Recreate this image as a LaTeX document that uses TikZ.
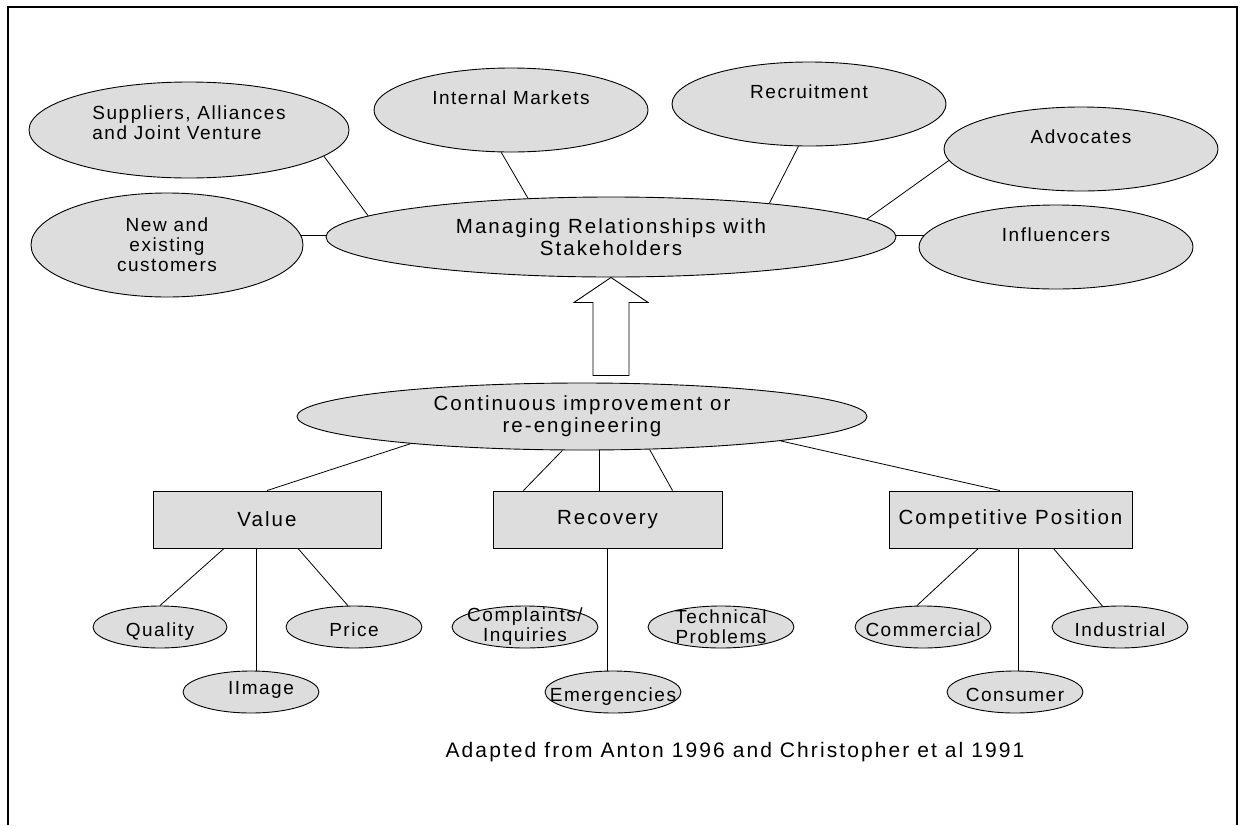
\documentclass[tikz,border=0pt]{standalone}
\usepackage{fontspec}
\setmainfont{Liberation Sans}[LetterSpace=8]
\usetikzlibrary{shapes.geometric}
\definecolor{shade}{RGB}{221,221,221}
\newcommand{\bigtext}{\fontsize{20.5}{22}\selectfont\addfontfeatures{LetterSpace=10}}
\tikzset{
    oval/.style={ellipse, draw, fill=shade, line width=0.9pt, inner sep=0pt, align=center, font=\fontsize{19}{20}\selectfont},
    outer/.style={oval, minimum width=274pt, minimum height=84pt},
    hightext/.style={text height=14pt, text depth=26pt},
    lowtext/.style={text height=18pt, text depth=0pt},
    bigoval/.style={oval, minimum width=570pt, font=\bigtext},
    small/.style={oval, minimum width=136pt, minimum height=42pt, inner xsep=-16pt, inner ysep=-6pt},
    box/.style={rectangle, draw, fill=shade, line width=0.9pt, minimum height=57pt, inner sep=0pt, font=\bigtext},
    link/.style={line width=0.8pt}
}
\begin{document}
\begin{tikzpicture}[x=1pt,y=-1pt]
        \useasboundingbox (0,0) rectangle (1244,825);
        \draw[line width=2pt] (8,825) -- (8,7) -- (1237,7) -- (1237,825);
        \node[oval, minimum width=320pt, minimum height=96pt, align=left, text depth=15pt] (sup) at (189,130) {Suppliers, Alliances\\and Joint Venture};
        \node[outer, hightext] (intm) at (511,110) {Internal Markets};
        \node[outer, hightext] (recr) at (809,104) {Recruitment};
        \node[outer, hightext] (advo) at (1081,149) {Advocates};
        \node[outer, hightext] (infl) at (1056,247) {Influencers};
        \node[oval, minimum width=272pt, minimum height=104pt] (cust) at (167,245) {New and\\existing\\customers};
        \node[bigoval, minimum height=80pt] (mrs) at (611,237) {Managing Relationships with\\Stakeholders};
        \node[bigoval, minimum height=67pt] (cim) at (582,416.5) {Continuous improvement or\\re-engineering};
        \node[box, minimum width=228pt] (value) at (267,519.5) {Value};
        \node[box, minimum width=229pt] (recv) at (607.5,519.5) {Recovery};
        \node[box, minimum width=243pt] (comp) at (1010.5,519.5) {Competitive Position};
        \node[small, lowtext, minimum width=134pt] (qual) at (160,627) {Quality};
        \node[small, text height=14pt, text depth=10pt] (imag) at (251,692) {\hspace*{20pt}IImage};
        \node[small, lowtext] (pric) at (354,627) {Price};
        \node[small, minimum width=146pt] (compl) at (525,627) {Complaints/\\Inquiries};
        \node[small, minimum width=146pt] (tech) at (721,627) {Technical\\Problems};
        \node[small, lowtext] (emer) at (613,692) {Emergencies};
        \node[small, lowtext] (comm) at (923,627) {Commercial};
        \node[small, lowtext] (indu) at (1120,627) {Industrial};
        \node[small, lowtext] (cons) at (1015,692) {Consumer};
        \node[font=\fontsize{21}{24}\selectfont\addfontfeatures{LetterSpace=10}] (src) at (735,752) {Adapted from Anton 1996 and Christopher et al 1991};
        \draw[link] (sup.-11) -- (mrs.175);
        \draw[link] (intm.257) -- (mrs.155);
        \draw[link] (recr.256) -- (mrs.12);
        \draw[link] (advo.185) -- (mrs.4);
        \draw[link] (cust.4) -- (cust.4 -| mrs.west);
        \draw[link] (infl.175) -- (infl.175 -| mrs.east);
        \draw[line width=0.9pt, fill=white] (mrs.south) -- ++(37,25) -- ++(-19,0) -- ++(0,73) -- ++(-36,0) -- ++(0,-73) -- ++(-19,0) -- cycle;
        \draw[link] (cim.189) -- (value.north);
        \draw[link] (cim.240) -- (recv.161);
        \draw[link] (cim.-63) -- (cim.-63 |- recv.north);
        \draw[link] (cim.-26) -- (recv.24);
        \draw[link] (cim.-7) -- (comp.110);
        \draw[link] (value.214) -- (qual.north);
        \draw[link] (value.south -| imag.76) -- (imag.76);
        \draw[link] (value.-43.5) -- (pric.106);
        \draw[link] (recv.south) -- (recv.south |- emer.north);
        \draw[link] (comp.222) -- (comm.106);
        \draw[link] (comp.south -| cons.80) -- (cons.80);
        \draw[link] (comp.-34.5) -- (indu.130);
\end{tikzpicture}
\end{document}
